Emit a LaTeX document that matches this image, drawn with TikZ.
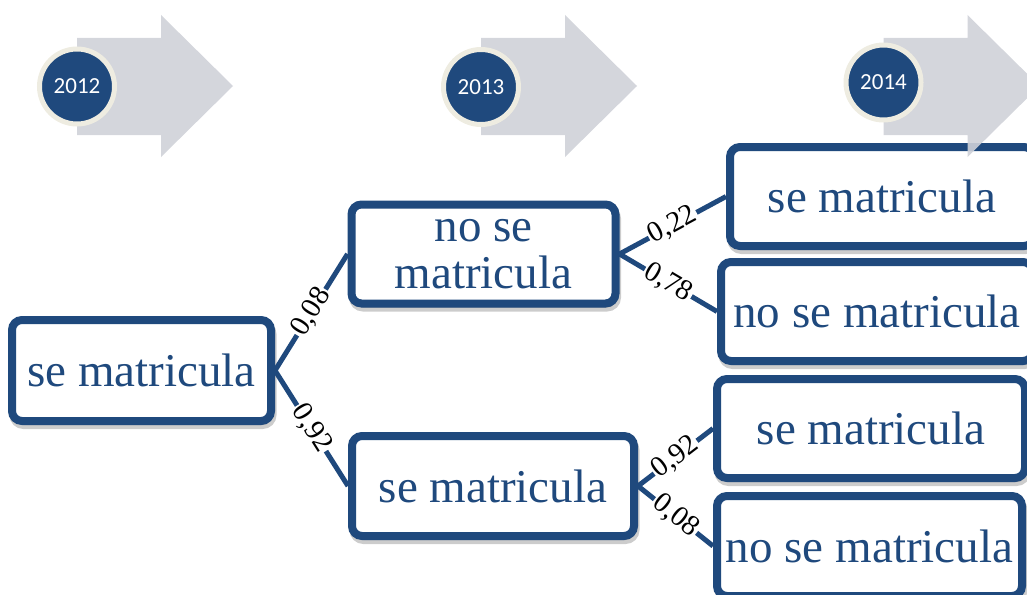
\documentclass[tikz,border=0pt]{standalone}
\usepackage{fontspec}
\setmainfont{Liberation Serif}
\newfontfamily\yearfont{Carlito}
\usepackage{xcolor}
\usetikzlibrary{positioning,shadows}
\definecolor{navy}{HTML}{1F497D}
\definecolor{arrowgray}{HTML}{CFD1D8}
\definecolor{ringcream}{HTML}{EEECE1}

\begin{document}
\begin{tikzpicture}[x=1pt, y=-1pt,
  state/.style={draw=navy, line width=8pt, rounded corners=10pt, fill=white, text=navy,
    font=\fontsize{47}{47}\selectfont, align=center, inner sep=0pt,
    drop shadow={shadow xshift=1.5pt, shadow yshift=-4pt, fill=black, draw=black, line width=8pt, opacity=0.2}},
  link/.style={draw=navy, line width=5pt},
  prob/.style={sloped, fill=white, inner sep=1.5pt, text=black, font=\fontsize{29}{29}\selectfont},
  year/.style={circle, draw=ringcream, line width=5pt, fill=navy, text=white, minimum size=75pt,
    inner sep=0pt, font=\yearfont\fontsize{23}{23}\selectfont}]
  \useasboundingbox (0,0) rectangle (1027,594);
  \clip (0,0) rectangle (1027,594);

  % 2012
  \node[state, minimum width=259pt, minimum height=101pt] (enr12) at (141.5,370.5) {se matricula};

  % 2013
  \node[state, minimum width=264pt, minimum height=99pt] (noenr13) at (483.5,254) {no se\\matricula};
  \node[state, minimum width=282pt, minimum height=100pt] (enr13) at (493,486) {se matricula};

  % 2014
  \node[state, minimum width=304pt, minimum height=99pt] (enr14a) at (882,196.5) {se matricula};
  \node[state, minimum width=312pt, minimum height=99pt] (noenr14a) at (877,311.5) {no se matricula};
  \node[state, minimum width=308pt, minimum height=99pt] (enr14b) at (871,428.5) {se matricula};
  \node[state, minimum width=305pt, minimum height=100pt] (noenr14b) at (869.5,546) {no se matricula};

  % Branches
  \draw[link] (enr12.east) -- node[prob] {0,08} (noenr13.west);
  \draw[link] (enr12.east) -- node[prob] {0,92} (enr13.west);
  \draw[link] (noenr13.east) -- node[prob] {0,22} (enr14a.west);
  \draw[link] (noenr13.east) -- node[prob] {0,78} (noenr14a.west);
  \draw[link] (enr13.east) -- node[prob] {0,92} (enr14b.west);
  \draw[link] (enr13.east) -- node[prob] {0,08} (noenr14b.west);

  % Timeline
  \foreach \cx/\cy/\yr in {77/86.5/2012, 481/87/2013, 883.5/82.5/2014} {
    \fill[arrowgray, fill opacity=0.9] (\cx,38) -- ++(84,0) -- ++(0,-23) -- ++(72,71)
      -- ++(-72,71) -- ++(0,-22) -- ++(-84,0) -- cycle;
    \node[year] (y\yr) at (\cx,\cy) {\yr};
  }
\end{tikzpicture}
\end{document}
